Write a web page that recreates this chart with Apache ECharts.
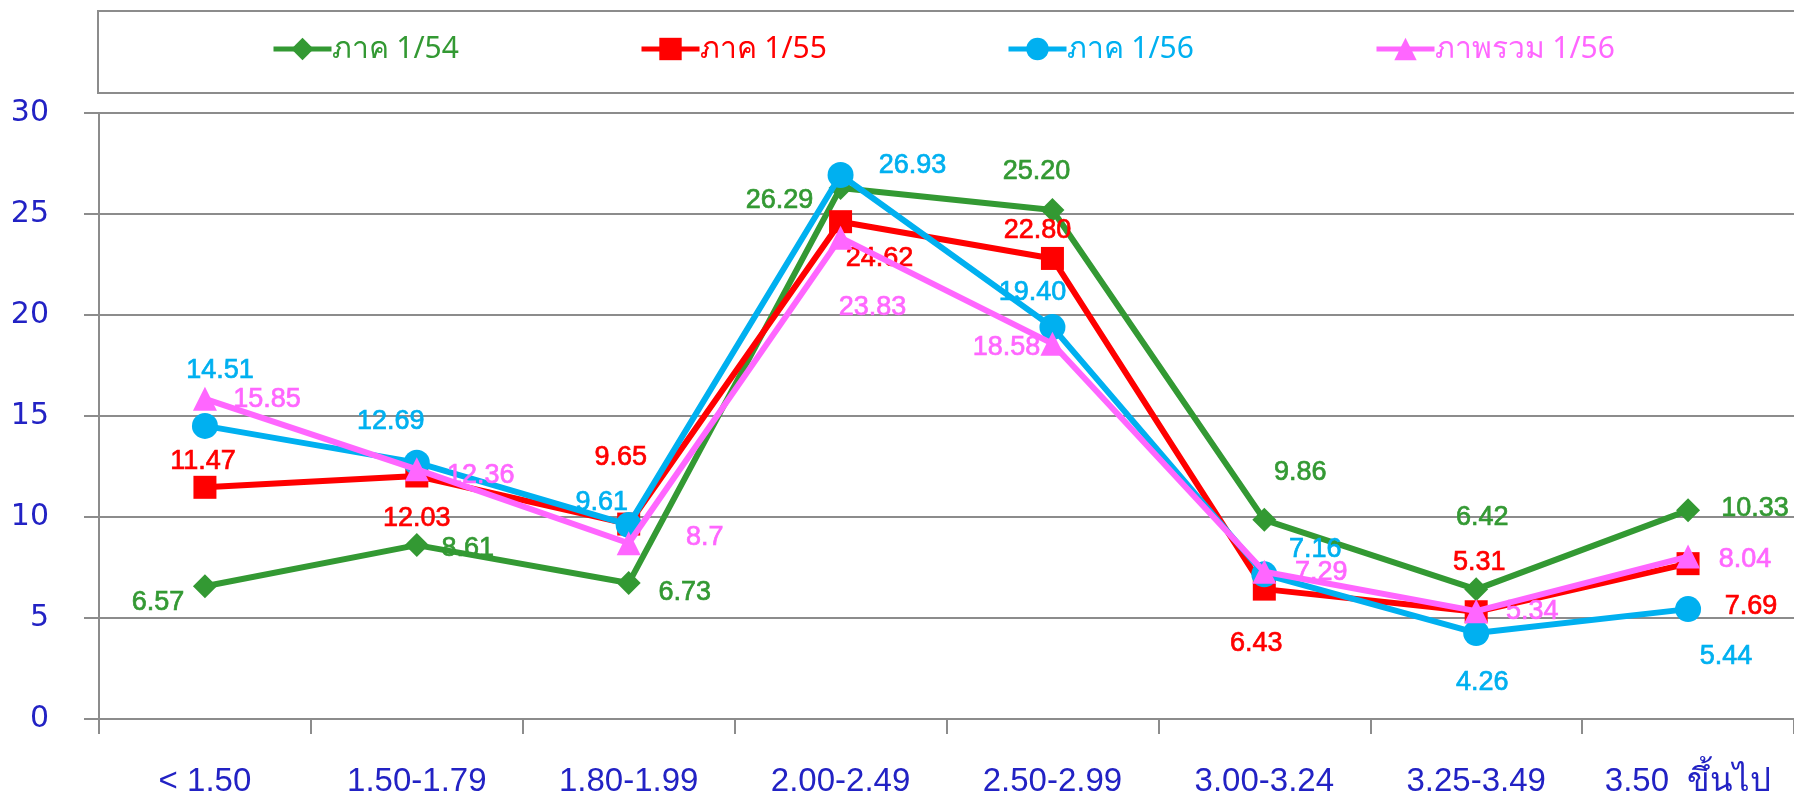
<!DOCTYPE html>
<html>
<head>
<meta charset="utf-8">
<script src="https://cdn.jsdelivr.net/npm/echarts@6/dist/echarts.min.js"></script>
<style>
html,body{margin:0;padding:0;background:#fff;}
#chart{width:1794px;height:801px;}
</style>
</head>
<body>
<div id="chart"></div>
<script>
// ---- data ----
const categories = ['< 1.50', '1.50-1.79', '1.80-1.99', '2.00-2.49', '2.50-2.99', '3.00-3.24', '3.25-3.49', '3.50  ขึ้นไป'];
const seriesNames = ['ภาค 1/54', 'ภาค 1/55', 'ภาค 1/56', 'ภาพรวม 1/56'];
const term154 = ['6.57', '8.61', '6.73', '26.29', '25.20', '9.86', '6.42', '10.33'];
const term155 = ['11.47', '12.03', '9.65', '24.62', '22.80', '6.43', '5.31', '7.69'];
const term156 = ['14.51', '12.69', '9.61', '26.93', '19.40', '7.16', '4.26', '5.44'];
const overall156 = ['15.85', '12.36', '8.7', '23.83', '18.58', '7.29', '5.34', '8.04'];
const yMin = 0, yMax = 30, yStep = 5;

// ---- styling (kept apart from the data) ----
const colors = ['#339933', '#FF0000', '#00B0F0', '#FF66FF'];
const symbols = ['diamond', 'rect', 'circle', 'triangle'];
const symbolSizes = [24, 23, 26, 24];
const legendLefts = [271, 639, 1006, 1374];
const labelOffsets = [
  [[-47, 16], [51, 3], [56, 9], [-61, 13], [-16, -38], [36, -47], [6, -72], [67, -2]],
  [[-2, -26], [0, 43], [-8, -67], [39, 37], [-15, -28], [-8, 54], [3, -49], [63, 43]],
  [[15, -55], [-26, -41], [-27, -22], [72, -9], [-20, -35], [51, -25], [6, 50], [38, 47]],
  [[62, 1], [64, 6], [76, -6], [32, 70], [-46, 4], [57, 1], [56, 0], [57, 3]]
];
const axisBlue = '#2222C4';
const gray = '#8C8C8C';

const allData = [term154, term155, term156, overall156];

const series = allData.map((arr, s) => ({
  name: seriesNames[s],
  type: 'line',
  symbol: symbols[s],
  symbolSize: symbolSizes[s],
  showAllSymbol: true,
  lineStyle: { color: colors[s], width: 6 },
  itemStyle: { color: colors[s] },
  data: arr.map((v, i) => ({
    value: v,
    label: { offset: labelOffsets[s][i] }
  })),
  label: {
    show: true,
    position: 'inside',
    align: 'center',
    verticalAlign: 'middle',
    color: colors[s],
    textBorderColor: colors[s],
    textBorderWidth: 0.7,
    fontFamily: 'Liberation Sans, Arial, sans-serif',
    fontSize: 27,
    formatter: p => p.data.value
  },
  z: 2 + s
}));

const legends = seriesNames.map((n, s) => ({
  data: [n],
  left: legendLefts[s],
  top: 34,
  padding: 0,
  itemWidth: 58,
  itemHeight: 28,
  itemGap: 0,
  lineStyle: { width: 5 },
  textStyle: {
    color: colors[s],
    fontSize: 30,
    fontFamily: 'Noto Sans, DejaVu Sans, sans-serif',
    padding: [0, 0, 0, -5]
  }
}));

const chart = echarts.init(document.getElementById('chart'));
chart.setOption({
  animation: false,
  backgroundColor: '#ffffff',
  color: colors,
  graphic: [{
    type: 'rect',
    shape: { x: 98, y: 11, width: 1760, height: 82 },
    style: { fill: 'none', stroke: gray, lineWidth: 2 },
    z: 0
  }],
  legend: legends,
  grid: { left: 99, right: 0, top: 113, bottom: 82, containLabel: false },
  xAxis: {
    type: 'category',
    data: categories,
    boundaryGap: true,
    axisLine: { lineStyle: { color: gray, width: 2 } },
    axisTick: { show: true, length: 15, inside: false, lineStyle: { color: gray, width: 2 } },
    axisLabel: {
      color: axisBlue,
      fontSize: 33,
      fontFamily: 'Liberation Sans, Arial, sans-serif',
      margin: 46,
      interval: 0
    }
  },
  yAxis: {
    type: 'value',
    min: yMin,
    max: yMax,
    interval: yStep,
    axisLine: { show: true, lineStyle: { color: gray, width: 2 } },
    axisTick: { show: true, length: 15, lineStyle: { color: gray, width: 2 } },
    splitLine: { show: true, lineStyle: { color: gray, width: 2 } },
    axisLabel: {
      color: axisBlue,
      fontSize: 30,
      fontFamily: 'DejaVu Sans, sans-serif',
      margin: 50,
      verticalAlign: 'middle',
      padding: [0, 0, 10, 0]
    }
  },
  series: series
});
</script>
</body>
</html>
